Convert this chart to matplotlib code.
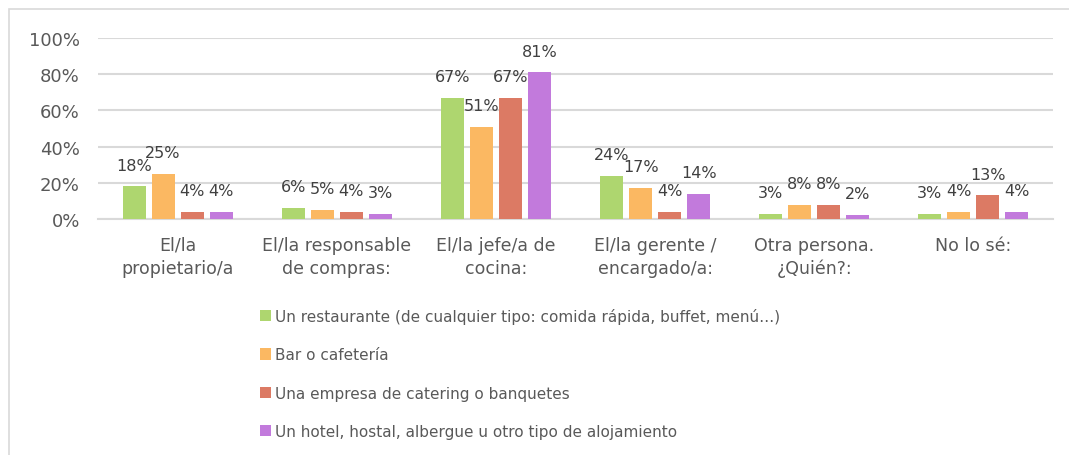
import matplotlib
matplotlib.use("Agg")
import matplotlib.pyplot as plt
from matplotlib.patches import Rectangle, Patch
import numpy as np

plt.rcParams['font.family'] = ['DejaVu Sans']

categories = ["El/la\npropietario/a", "El/la responsable\nde compras:", "El/la jefe/a de\ncocina:",
              "El/la gerente /\nencargado/a:", "Otra persona.\n¿Quién?:", "No lo sé:"]
series_names = ["Un restaurante (de cualquier tipo: comida rápida, buffet, menú…)",
                "Bar o cafetería",
                "Una empresa de catering o banquetes",
                "Un hotel, hostal, albergue u otro tipo de alojamiento"]
restaurante = [18, 6, 67, 24, 3, 3]
bar = [25, 5, 51, 17, 8, 4]
catering = [4, 4, 67, 4, 8, 13]
hotel = [4, 3, 81, 14, 2, 4]
yticks = [0, 20, 40, 60, 80, 100]
colors = ["#AED66F", "#FBB862", "#DC7A64", "#C27ADC"]
text_color = "#595959"
grid_color = "#D9D9D9"

W, H = 1069, 456
fig = plt.figure(figsize=(W / 100, H / 100), dpi=100)
fig.patches.append(Rectangle((9 / W, -0.1), 1.2, 1 - 10 / H + 0.1, transform=fig.transFigure,
                             fill=False, edgecolor="#D9D9D9", linewidth=1.2))

ax = fig.add_axes([98 / W, 1 - 220 / H, (1053 - 98) / W, (220 - 39) / H])
x = np.arange(len(categories))
step = 29 / 159
bw = 23 / 159
data = [restaurante, bar, catering, hotel]
for i, (vals, c) in enumerate(zip(data, colors)):
    xs = x + (i - 1.5) * step
    ax.bar(xs, vals, width=bw, color=c, zorder=3)
    for xi, v in zip(xs, vals):
        ax.annotate(f"{v}%", (xi, v), xytext=(0, 10), textcoords="offset points",
                    ha="center", va="bottom", fontsize=11.5, color="#404040")

ax.set_xlim(-0.5, len(categories) - 0.5)
ax.set_ylim(0, 100)
ax.set_yticks(yticks)
ax.set_yticklabels([f"{t}%" for t in yticks])
ax.set_xticks(x)
ax.set_xticklabels(categories, linespacing=1.35)
ax.tick_params(axis="y", length=0, pad=13, labelsize=13, labelcolor=text_color)
ax.tick_params(axis="x", length=0, pad=12, labelsize=12.5, labelcolor=text_color)
ax.grid(axis="y", color=grid_color, linewidth=1.5, zorder=0)
for s in ["top", "right", "left"]:
    ax.spines[s].set_visible(False)
ax.spines["bottom"].set_color(grid_color)
ax.spines["bottom"].set_linewidth(1.5)

handles = [Patch(facecolor=c, edgecolor="none") for c in colors]
fig.legend(handles, series_names, loc="upper left", bbox_to_anchor=(260 / W, 1 - 309 / H),
           frameon=False, fontsize=11, labelcolor=text_color, handlelength=0.75, handleheight=0.75,
           handletextpad=0.25, labelspacing=1.53, borderaxespad=0, borderpad=0)

fig.savefig("out.png", dpi=100)
